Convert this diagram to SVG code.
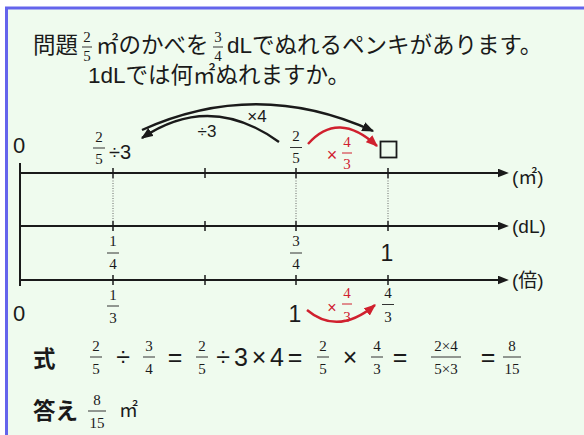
<svg xmlns="http://www.w3.org/2000/svg" width="584" height="435" viewBox="0 0 584 435">
<defs>
<style>
.tx{font-family:"Liberation Sans","Noto Sans CJK JP",sans-serif;fill:#1a1a1a}
.jp{font-size:22.5px}
.bold{font-weight:bold}
.big{font-size:25px;text-anchor:middle}
.fr{font-family:"Liberation Serif","Noto Sans CJK JP",serif;font-size:15px;text-anchor:middle;fill:#1a1a1a}
.red{fill:#d0202e}
.bar{stroke:#333;stroke-width:1}
.rbar{stroke:#d0202e;stroke-width:1}
.axis{stroke:#1a1a1a;stroke-width:2;fill:none}
.tick{stroke:#1a1a1a;stroke-width:1.5}
.dot{stroke:#666;stroke-width:1;stroke-dasharray:1 1.5}
.arc{fill:none;stroke:#1a1a1a;stroke-width:2.4}
.rarc{fill:none;stroke:#d0202e;stroke-width:2.4}
</style>
<marker id="ah" viewBox="0 0 10 8" refX="9" refY="4" markerWidth="12" markerHeight="10" orient="auto" markerUnits="userSpaceOnUse"><path d="M0,0 L10,4 L0,8 z" fill="#1a1a1a"/></marker>
<marker id="rh" viewBox="0 0 10 8" refX="9" refY="4" markerWidth="12" markerHeight="10" orient="auto" markerUnits="userSpaceOnUse"><path d="M0,0 L10,4 L0,8 z" fill="#d0202e"/></marker>
<marker id="axh" viewBox="0 0 10 8" refX="1" refY="4" markerWidth="11" markerHeight="9" orient="auto" markerUnits="userSpaceOnUse"><path d="M0,0 L10,4 L0,8 z" fill="#1a1a1a"/></marker>
</defs>
<rect x="0" y="0" width="584" height="435" fill="#ffffff"/>
<rect x="6" y="8" width="578" height="427" fill="#effbee"/>
<line x1="5" y1="8" x2="584" y2="8" stroke="#6464ec" stroke-width="3"/>
<line x1="6.5" y1="7" x2="6.5" y2="435" stroke="#6464ec" stroke-width="3"/>

<g id="title">
<text class="tx jp" x="33" y="53">問題</text>
<text class="fr" x="87" y="42">2</text><line class="bar" x1="82" y1="47" x2="92" y2="47"/><text class="fr" x="87" y="61">5</text>
<text class="tx jp" x="96" y="53">㎡のかべを</text>
<text class="fr" x="218" y="42">3</text><line class="bar" x1="213" y1="47" x2="223" y2="47"/><text class="fr" x="218" y="61">4</text>
<text class="tx jp" x="227" y="53">dLでぬれるペンキがあります。</text>
<text class="tx jp" x="88" y="83">1dLでは何㎡ぬれますか。</text>
</g>

<g id="axes">
<line class="axis" x1="20" y1="163" x2="20" y2="286"/>
<line class="axis" x1="20" y1="173" x2="499" y2="173" marker-end="url(#axh)"/>
<line class="axis" x1="20" y1="226" x2="499" y2="226" marker-end="url(#axh)"/>
<line class="axis" x1="20" y1="280" x2="499" y2="280" marker-end="url(#axh)"/>
<g id="ticks">
<line class="tick" x1="113" y1="168" x2="113" y2="178"/><line class="tick" x1="205" y1="168" x2="205" y2="178"/><line class="tick" x1="296" y1="168" x2="296" y2="178"/><line class="tick" x1="388" y1="168" x2="388" y2="178"/>
<line class="tick" x1="113" y1="221" x2="113" y2="231"/><line class="tick" x1="205" y1="221" x2="205" y2="231"/><line class="tick" x1="296" y1="221" x2="296" y2="231"/><line class="tick" x1="388" y1="221" x2="388" y2="231"/>
<line class="tick" x1="113" y1="275" x2="113" y2="285"/><line class="tick" x1="205" y1="275" x2="205" y2="285"/><line class="tick" x1="296" y1="275" x2="296" y2="285"/><line class="tick" x1="388" y1="275" x2="388" y2="285"/>
</g>
<line class="dot" x1="113" y1="178" x2="113" y2="221"/>
<line class="dot" x1="296" y1="178" x2="296" y2="221"/>
<line class="dot" x1="388" y1="178" x2="388" y2="221"/>
<text class="tx" x="512" y="184" font-size="19">(㎡)</text>
<text class="tx" x="512" y="233" font-size="19">(dL)</text>
<text class="tx" x="512" y="287" font-size="19">(倍)</text>
</g>

<g id="row-m2">
<text class="tx" x="19" y="153" font-size="22" text-anchor="middle">0</text>
<text class="fr" x="99" y="142">2</text><line class="bar" x1="93" y1="148" x2="105" y2="148"/><text class="fr" x="99" y="164">5</text>
<text class="tx" x="109" y="159" font-size="20">÷3</text>
<text class="fr" x="296" y="141">2</text><line class="bar" x1="290" y1="147.5" x2="302" y2="147.5"/><text class="fr" x="296" y="163">5</text>
<rect x="380.5" y="141.5" width="16" height="16" fill="none" stroke="#1a1a1a" stroke-width="1.8"/>
<text class="tx red" x="332" y="161" font-size="18" text-anchor="middle">×</text>
<text class="fr red" x="347" y="147">4</text><line class="rbar" x1="342" y1="153" x2="352" y2="153"/><text class="fr red" x="347" y="169">3</text>
</g>

<g id="row-dl">
<text class="fr" x="113" y="246">1</text><line class="bar" x1="107" y1="253" x2="119" y2="253"/><text class="fr" x="113" y="269">4</text>
<text class="fr" x="296" y="246">3</text><line class="bar" x1="290" y1="253" x2="302" y2="253"/><text class="fr" x="296" y="269">4</text>
<text class="tx" x="387" y="261" font-size="23" text-anchor="middle">1</text>
</g>

<g id="row-bai">
<text class="tx" x="19" y="321" font-size="22" text-anchor="middle">0</text>
<text class="fr" x="113" y="300">1</text><line class="bar" x1="107" y1="306" x2="119" y2="306"/><text class="fr" x="113" y="323">3</text>
<text class="tx" x="295" y="322" font-size="23" text-anchor="middle">1</text>
<text class="tx red" x="332" y="313" font-size="16" text-anchor="middle">×</text>
<text class="fr red" x="347" y="298" font-size="14">4</text><line class="rbar" x1="342" y1="304" x2="352" y2="304"/><text class="fr red" x="347" y="322" font-size="14">3</text>
<text class="fr" x="388" y="298">4</text><line class="bar" x1="382" y1="304.5" x2="394" y2="304.5"/><text class="fr" x="388" y="322">3</text>
</g>

<g id="connectors">
<path class="arc" d="M142,130 Q257,78 373,131" marker-end="url(#ah)"/>
<path class="arc" d="M279,142 Q210,92 142,138" marker-end="url(#ah)"/>
<path class="rarc" d="M308,144 Q338,110 377,146" marker-end="url(#rh)"/>
<path class="rarc" d="M307,310 Q338,336 375,305" marker-end="url(#rh)"/>
<text class="tx" x="257" y="122" font-size="17" text-anchor="middle">×4</text>
<text class="tx" x="207" y="137" font-size="17" text-anchor="middle">÷3</text>
</g>

<g id="equation">
<text class="tx jp bold" x="33" y="367">式</text>
<text class="fr" x="96" y="351">2</text><line class="bar" x1="90" y1="357" x2="102" y2="357"/><text class="fr" x="96" y="374">5</text>
<text class="tx big" x="123" y="366">÷</text>
<text class="fr" x="149" y="351">3</text><line class="bar" x1="143" y1="357" x2="155" y2="357"/><text class="fr" x="149" y="374">4</text>
<text class="tx big" x="175" y="366">=</text>
<text class="fr" x="202" y="351">2</text><line class="bar" x1="196" y1="357" x2="208" y2="357"/><text class="fr" x="202" y="374">5</text>
<text class="tx big" x="223" y="366">÷</text>
<text class="tx big" x="241" y="366">3</text>
<text class="tx big" x="259" y="366">×</text>
<text class="tx big" x="277" y="366">4</text>
<text class="tx big" x="295" y="366">=</text>
<text class="fr" x="323" y="351">2</text><line class="bar" x1="317" y1="357" x2="329" y2="357"/><text class="fr" x="323" y="374">5</text>
<text class="tx big" x="350" y="366">×</text>
<text class="fr" x="377" y="351">4</text><line class="bar" x1="371" y1="357" x2="383" y2="357"/><text class="fr" x="377" y="374">3</text>
<text class="tx big" x="400" y="366">=</text>
<text class="fr" x="446" y="351">2×4</text><line class="bar" x1="431" y1="357" x2="461" y2="357"/><text class="fr" x="446" y="374">5×3</text>
<text class="tx big" x="488" y="366">=</text>
<text class="fr" x="512" y="351">8</text><line class="bar" x1="503" y1="357" x2="521" y2="357"/><text class="fr" x="512" y="374">15</text>
</g>

<g id="answer">
<text class="tx jp bold" x="33" y="419">答え</text>
<text class="fr" x="97" y="405">8</text><line class="bar" x1="88" y1="411" x2="106" y2="411"/><text class="fr" x="97" y="428">15</text>
<text class="tx" x="119" y="417" font-size="19">㎡</text>
</g>
</svg>
